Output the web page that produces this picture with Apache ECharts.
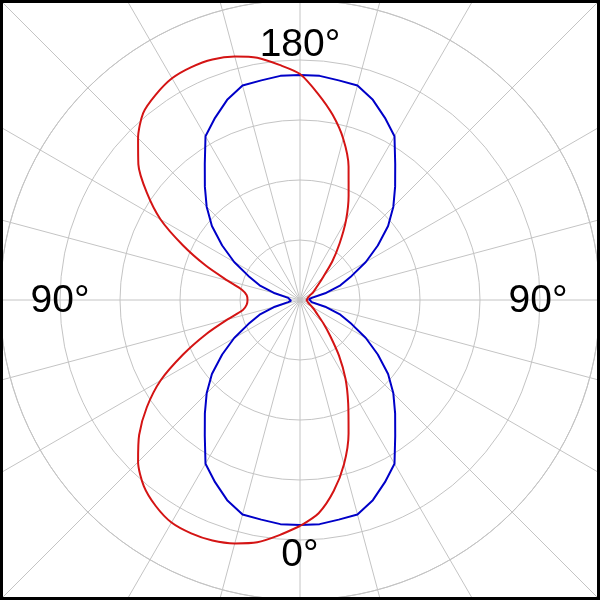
<!DOCTYPE html>
<html>
<head>
<meta charset="utf-8">
<script src="https://cdn.jsdelivr.net/npm/echarts@6/dist/echarts.min.js"></script>
<style>
html,body{margin:0;padding:0;background:#fff;}
#c{width:600px;height:600px;}
</style>
</head>
<body>
<div id="c"></div>
<script>
// Angles (deg): 0 at bottom, 90 at left, 180 at top, 270 at right
const angles = [0,5,10,15,20,25,30,35,40,45,50,55,60,65,70,75,80,85,90,95,100,105,110,115,120,125,130,135,140,145,150,155,160,165,170,175,180,185,190,195,200,205,210,215,220,225,230,235,240,245,250,255,260,265,270,275,280,285,290,295,300,305,310,315,320,325,330,335,340,345,350,355,360];
const blueValues = [225,225,223,222,213,201,189,166,148,132,115,95,76,57,43,26,12,9,8.5,9,12,26,43,57,76,95,115,132,148,166,189,201,213,222,223,225,225,225,223,222,213,201,189,166,148,132,115,95,76,57,43,26,12,9,8.5,9,12,26,43,57,76,95,115,132,148,166,189,201,213,222,223,225,225];
const redValues = [226,236,246,252,256,257.5,257,251.5,243,229,210,187,161,129,100,75,58,53.5,52.5,53.5,59,75,100,129,161,187,211,229,244,251,256,257,256,252,246,236,226,207,188,167,142,115,92,69,50,33,24,18.5,15,11,9,8,7.5,7,6.5,7,7.5,8,9,11,14,18,23,33,47,68,91,114,142,170,194,214,226];
const tickLabels = ['0°','90°','180°','90°'];
const tickAngles = [0,90,180,270];

const chart = echarts.init(document.getElementById('c'), null, {renderer:'canvas'});
const gridColor = '#c4c4c4';
const pairs = (vals) => vals.map((v,i)=>[v, angles[i]]);

chart.setOption({
  backgroundColor:'#ffffff',
  animation:false,
  polar:[
    {center:['50%','50%'], radius:430},
    {center:['50%','50%'], radius:300}
  ],
  angleAxis:[
    {polarIndex:0, type:'value', min:0, max:360, interval:15, startAngle:270, clockwise:true,
     axisLine:{show:false}, axisTick:{show:false}, axisLabel:{show:false},
     splitLine:{show:true, lineStyle:{color:gridColor, width:1}}},
    {polarIndex:1, type:'value', min:0, max:360, interval:90, startAngle:270, clockwise:true,
     axisLine:{show:true, lineStyle:{color:gridColor, width:1}}, axisTick:{show:false}, axisLabel:{show:false},
     splitLine:{show:false}}
  ],
  radiusAxis:[
    {polarIndex:0, type:'value', min:0, max:430, show:false, splitLine:{show:false}},
    {polarIndex:1, type:'value', min:0, max:300, interval:60,
     axisLine:{show:false}, axisTick:{show:false}, axisLabel:{show:false},
     splitLine:{show:true, lineStyle:{color:gridColor, width:1}}}
  ],
  series:[
    {type:'line', coordinateSystem:'polar', polarIndex:1, data:pairs(blueValues), showSymbol:false, symbol:'none',
     lineStyle:{color:'#0000c8', width:2}, z:3},
    {type:'line', coordinateSystem:'polar', polarIndex:1, data:pairs(redValues), showSymbol:false, symbol:'none',
     smooth:0.25, lineStyle:{color:'#d41414', width:2}, z:4}
  ]
});

const labelRadius = {0:254, 90:240, 180:256, 270:238};
const graphics = tickLabels.map((t,i)=>{
  const a = tickAngles[i];
  let p = null;
  try { p = chart.convertToPixel({polarIndex:1}, [labelRadius[a], a]); } catch(e) { p = null; }
  if (!p) {
    const rad = a*Math.PI/180;
    p = [300 - labelRadius[a]*Math.sin(rad), 300 + labelRadius[a]*Math.cos(rad)];
  }
  return {type:'text', x:p[0], y:p[1]+1, z:100,
    style:{text:t, fill:'#000', font:'39px "Liberation Sans", Arial, sans-serif', align:'center', verticalAlign:'middle'}};
});
graphics.push({type:'rect', shape:{x:1.5,y:1.5,width:597,height:597}, z:101,
  style:{fill:'none', stroke:'#000', lineWidth:3}});
chart.setOption({graphic:graphics});
</script>
</body>
</html>
